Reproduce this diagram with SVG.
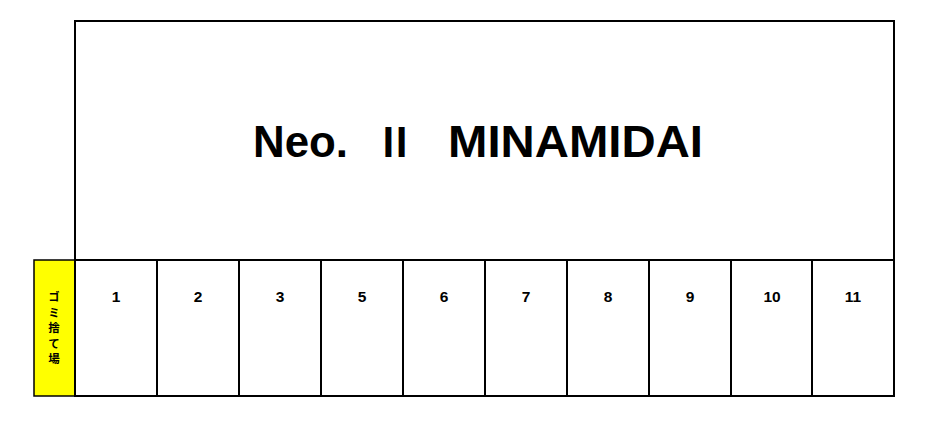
<svg xmlns="http://www.w3.org/2000/svg" width="947" height="447" viewBox="0 0 947 447">
<style>
.box{fill:#fff;stroke:#000;stroke-width:2}
.num{font-family:"Liberation Sans",Arial,sans-serif;font-weight:bold;font-size:15.5px;text-anchor:middle;fill:#000}
</style>
<rect width="947" height="447" fill="#fff"/>
<g id="building">
<rect class="box" x="75" y="21" width="819" height="239"/>
<text y="157" font-family="'Liberation Sans','Noto Sans CJK JP',sans-serif" font-weight="bold" font-size="44" fill="#000"><tspan x="253" textLength="95" lengthAdjust="spacingAndGlyphs">Neo.</tspan><tspan font-size="10">　</tspan><tspan x="375" font-family="'Noto Sans CJK JP',sans-serif" font-size="40">Ⅱ</tspan><tspan font-size="10">　</tspan><tspan x="448" textLength="255" lengthAdjust="spacingAndGlyphs">MINAMIDAI</tspan></text>
</g>
<g id="garbage">
<rect x="34" y="260" width="41" height="136" fill="#ffff00" stroke="#000" stroke-width="1.5"/>
<text x="54" y="291" font-family="'Noto Sans CJK JP',sans-serif" font-weight="bold" font-size="11.5" writing-mode="vertical-rl" letter-spacing="4" fill="#000">ゴミ捨て場</text>
</g>
<g id="cell1"><rect class="box" x="75" y="260" width="82" height="136"/><text class="num" x="116" y="302">1</text></g>
<g id="cell2"><rect class="box" x="157" y="260" width="82" height="136"/><text class="num" x="198" y="302">2</text></g>
<g id="cell3"><rect class="box" x="239" y="260" width="82" height="136"/><text class="num" x="280" y="302">3</text></g>
<g id="cell5"><rect class="box" x="321" y="260" width="82" height="136"/><text class="num" x="362" y="302">5</text></g>
<g id="cell6"><rect class="box" x="403" y="260" width="82" height="136"/><text class="num" x="444" y="302">6</text></g>
<g id="cell7"><rect class="box" x="485" y="260" width="82" height="136"/><text class="num" x="526" y="302">7</text></g>
<g id="cell8"><rect class="box" x="567" y="260" width="82" height="136"/><text class="num" x="608" y="302">8</text></g>
<g id="cell9"><rect class="box" x="649" y="260" width="82" height="136"/><text class="num" x="690" y="302">9</text></g>
<g id="cell10"><rect class="box" x="731" y="260" width="81" height="136"/><text class="num" x="772" y="302">10</text></g>
<g id="cell11"><rect class="box" x="812" y="260" width="82" height="136"/><text class="num" x="853" y="302">11</text></g>
<g id="connectors"/>
</svg>
